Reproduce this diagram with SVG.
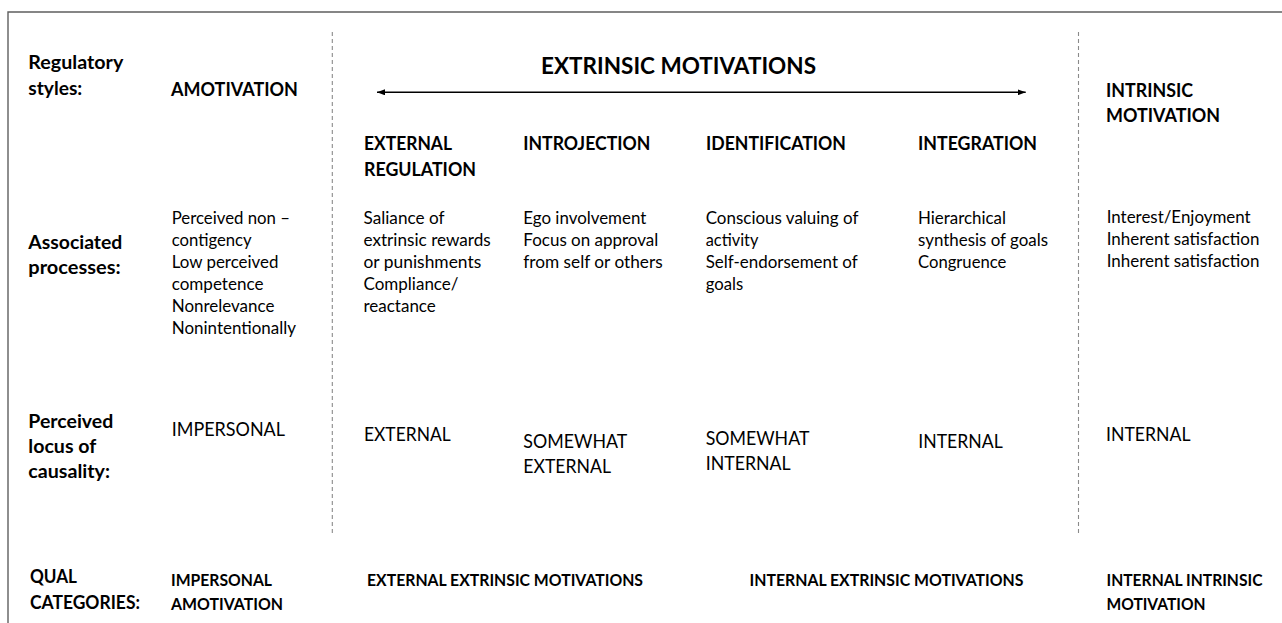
<svg xmlns="http://www.w3.org/2000/svg" width="1282" height="623" viewBox="0 0 1282 623">
<defs>
<style>
text{font-family:Lato,"Open Sans","Liberation Sans",sans-serif;fill:#000}
.lbl{font-weight:700;font-size:18px}
.hd{font-weight:700;font-size:18.2px}
.title{font-weight:700;font-size:22.8px}
.body{font-weight:400;font-size:16.8px}
.locus{font-weight:400;font-size:18.8px}
.qual{font-weight:700;font-size:16.3px}
.frame{fill:none;stroke:#5f5f5f;stroke-width:1.4}
.divider{stroke:#8a8a8a;stroke-width:1.1;stroke-dasharray:4 3;fill:none}
.arrow{stroke:#000;stroke-width:1.4;fill:none}
</style>
<marker id="ah" viewBox="0 0 8 6" refX="8" refY="3" markerWidth="8" markerHeight="6" markerUnits="userSpaceOnUse" orient="auto-start-reverse">
<path d="M0,0 L8,3 L0,6 z" fill="#000"/>
</marker>
</defs>
<rect width="1282" height="623" fill="#fff"/>
<g id="frame">
<path class="frame" d="M8,623 L8,12 L1282,12"/>
</g>
<g id="connectors">
<line class="divider" x1="332.3" y1="32" x2="332.3" y2="533"/>
<line class="divider" x1="1078.5" y1="32" x2="1078.5" y2="533"/>
<line class="arrow" x1="377" y1="92.3" x2="1025.7" y2="92.3" marker-start="url(#ah)" marker-end="url(#ah)"/>
</g>
<g id="row-labels">
<text class="lbl" x="28.3" y="69" textLength="95" lengthAdjust="spacingAndGlyphs">Regulatory</text>
<text class="lbl" x="28.3" y="95" textLength="54" lengthAdjust="spacingAndGlyphs">styles:</text>
<text class="lbl" x="28.3" y="248.5" textLength="94" lengthAdjust="spacingAndGlyphs">Associated</text>
<text class="lbl" x="28.3" y="274" textLength="92.3" lengthAdjust="spacingAndGlyphs">processes:</text>
<text class="lbl" x="28.3" y="428.3" textLength="85" lengthAdjust="spacingAndGlyphs">Perceived</text>
<text class="lbl" x="28.3" y="453.3" textLength="68" lengthAdjust="spacingAndGlyphs">locus of</text>
<text class="lbl" x="28.3" y="478" textLength="81.7" lengthAdjust="spacingAndGlyphs">causality:</text>
<text class="lbl" x="30" y="583" textLength="47" lengthAdjust="spacingAndGlyphs">QUAL</text>
<text class="lbl" x="30" y="609" textLength="110" lengthAdjust="spacingAndGlyphs">CATEGORIES:</text>
</g>
<g id="amotivation">
<text class="hd" x="171" y="96" textLength="127" lengthAdjust="spacingAndGlyphs">AMOTIVATION</text>
<text class="body" x="171.7" y="224.3" textLength="118.3" lengthAdjust="spacingAndGlyphs">Perceived non –</text>
<text class="body" x="171.7" y="246.2" textLength="80" lengthAdjust="spacingAndGlyphs">contigency</text>
<text class="body" x="171.7" y="268.1" textLength="106.7" lengthAdjust="spacingAndGlyphs">Low perceived</text>
<text class="body" x="171.7" y="290" textLength="91.7" lengthAdjust="spacingAndGlyphs">competence</text>
<text class="body" x="171.7" y="311.9" textLength="102.7" lengthAdjust="spacingAndGlyphs">Nonrelevance</text>
<text class="body" x="171.7" y="333.8" textLength="124.3" lengthAdjust="spacingAndGlyphs">Nonintentionally</text>
<text class="locus" x="171.7" y="436" textLength="113.3" lengthAdjust="spacingAndGlyphs">IMPERSONAL</text>
<text class="qual" x="171" y="586" textLength="101" lengthAdjust="spacingAndGlyphs">IMPERSONAL</text>
<text class="qual" x="171" y="610" textLength="112" lengthAdjust="spacingAndGlyphs">AMOTIVATION</text>
</g>
<g id="extrinsic-title">
<text class="title" x="541" y="74.3" textLength="275" lengthAdjust="spacingAndGlyphs">EXTRINSIC MOTIVATIONS</text>
</g>
<g id="external-regulation">
<text class="hd" x="364" y="149.5" textLength="88" lengthAdjust="spacingAndGlyphs">EXTERNAL</text>
<text class="hd" x="364" y="175.5" textLength="112" lengthAdjust="spacingAndGlyphs">REGULATION</text>
<text class="body" x="363.5" y="224.3" textLength="81" lengthAdjust="spacingAndGlyphs">Saliance of</text>
<text class="body" x="363.5" y="246.2" textLength="127.3" lengthAdjust="spacingAndGlyphs">extrinsic rewards</text>
<text class="body" x="363.5" y="268.1" textLength="117.7" lengthAdjust="spacingAndGlyphs">or punishments</text>
<text class="body" x="363.5" y="290" textLength="95" lengthAdjust="spacingAndGlyphs">Compliance/</text>
<text class="body" x="363.5" y="311.9" textLength="72.3" lengthAdjust="spacingAndGlyphs">reactance</text>
<text class="locus" x="364" y="441" textLength="86.7" lengthAdjust="spacingAndGlyphs">EXTERNAL</text>
</g>
<g id="introjection">
<text class="hd" x="523.3" y="149.5" textLength="127" lengthAdjust="spacingAndGlyphs">INTROJECTION</text>
<text class="body" x="523.3" y="224.3" textLength="123" lengthAdjust="spacingAndGlyphs">Ego involvement</text>
<text class="body" x="523.3" y="246.2" textLength="135" lengthAdjust="spacingAndGlyphs">Focus on approval</text>
<text class="body" x="523.3" y="268.1" textLength="139.3" lengthAdjust="spacingAndGlyphs">from self or others</text>
<text class="locus" x="523.3" y="448.3" textLength="104" lengthAdjust="spacingAndGlyphs">SOMEWHAT</text>
<text class="locus" x="523.3" y="473.3" textLength="87.7" lengthAdjust="spacingAndGlyphs">EXTERNAL</text>
</g>
<g id="identification">
<text class="hd" x="706" y="149.5" textLength="140" lengthAdjust="spacingAndGlyphs">IDENTIFICATION</text>
<text class="body" x="705.7" y="224.3" textLength="152.7" lengthAdjust="spacingAndGlyphs">Conscious valuing of</text>
<text class="body" x="705.7" y="246.2" textLength="52.7" lengthAdjust="spacingAndGlyphs">activity</text>
<text class="body" x="705.7" y="268.1" textLength="152" lengthAdjust="spacingAndGlyphs">Self-endorsement of</text>
<text class="body" x="705.7" y="290" textLength="37.5" lengthAdjust="spacingAndGlyphs">goals</text>
<text class="locus" x="705.7" y="445" textLength="103.7" lengthAdjust="spacingAndGlyphs">SOMEWHAT</text>
<text class="locus" x="705.7" y="469.5" textLength="85" lengthAdjust="spacingAndGlyphs">INTERNAL</text>
</g>
<g id="integration">
<text class="hd" x="918" y="149.5" textLength="119" lengthAdjust="spacingAndGlyphs">INTEGRATION</text>
<text class="body" x="918" y="224.3" textLength="88" lengthAdjust="spacingAndGlyphs">Hierarchical</text>
<text class="body" x="918" y="246.2" textLength="130" lengthAdjust="spacingAndGlyphs">synthesis of goals</text>
<text class="body" x="918" y="268.1" textLength="88.3" lengthAdjust="spacingAndGlyphs">Congruence</text>
<text class="locus" x="918.3" y="447.7" textLength="84.4" lengthAdjust="spacingAndGlyphs">INTERNAL</text>
</g>
<g id="intrinsic-motivation">
<text class="hd" x="1106" y="96.7" textLength="87" lengthAdjust="spacingAndGlyphs">INTRINSIC</text>
<text class="hd" x="1106" y="121.7" textLength="114" lengthAdjust="spacingAndGlyphs">MOTIVATION</text>
<text class="body" x="1106.7" y="223.3" textLength="144" lengthAdjust="spacingAndGlyphs">Interest/Enjoyment</text>
<text class="body" x="1106.7" y="245.2" textLength="152.7" lengthAdjust="spacingAndGlyphs">Inherent satisfaction</text>
<text class="body" x="1106.7" y="267.1" textLength="152.7" lengthAdjust="spacingAndGlyphs">Inherent satisfaction</text>
<text class="locus" x="1106" y="441" textLength="84.5" lengthAdjust="spacingAndGlyphs">INTERNAL</text>
</g>
<g id="qual-external">
<text class="qual" x="367" y="586" textLength="276" lengthAdjust="spacingAndGlyphs">EXTERNAL EXTRINSIC MOTIVATIONS</text>
</g>
<g id="qual-internal">
<text class="qual" x="749.5" y="586" textLength="274" lengthAdjust="spacingAndGlyphs">INTERNAL EXTRINSIC MOTIVATIONS</text>
</g>
<g id="qual-intrinsic">
<text class="qual" x="1106.5" y="586" textLength="156" lengthAdjust="spacingAndGlyphs">INTERNAL INTRINSIC</text>
<text class="qual" x="1106.5" y="610" textLength="99" lengthAdjust="spacingAndGlyphs">MOTIVATION</text>
</g>
</svg>
